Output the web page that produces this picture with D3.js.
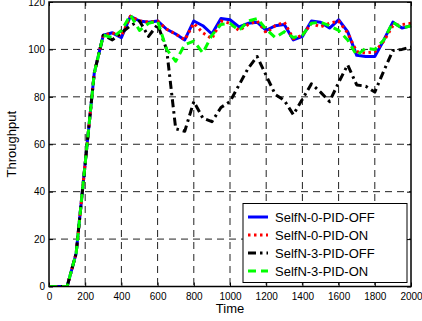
<!DOCTYPE html>
<html>
<head>
<meta charset="utf-8">
<script src="https://cdn.jsdelivr.net/npm/d3@7"></script>
<style>
  body { margin: 0; background: #fff; }
  text { font-family: "Liberation Sans", Arial, sans-serif; }
</style>
</head>
<body>
<div id="chart"></div>
<script>
// time samples
const times = d3.range(0, 2001, 50)

const selfN0Off = [0, 0, 0, 14, 52, 90, 106, 107, 105, 114, 112, 111.5, 112, 108.5, 106.5, 104, 112, 110, 106.5, 113, 112.5,
  109.5, 111, 111.5, 108, 110, 110.5, 104, 105.5, 112, 111.5, 109, 112.5, 107.5, 97.5, 97, 97, 104, 111.5, 109, 110]
const selfN0On = [0, 0, 0, 14, 52, 90, 106, 107, 105.5, 114, 112, 111.5, 112, 108.5, 106.5, 104, 111, 107, 104.5, 112, 111,
  108, 110.5, 112, 107, 110, 111.5, 104.5, 106, 111, 109.5, 111, 112, 107, 99, 98.5, 99, 103.5, 110, 110.5, 111]
const selfN3Off = [0, 0, 0, 14, 52, 90, 106, 104, 107, 110, 112, 105.5, 110.5, 100, 66.5, 65.5, 78, 71, 69.5, 75.5, 78,
  85, 92, 97, 89, 81, 78.5, 72.5, 79, 85.5, 82, 78, 86, 93.5, 85, 84.5, 82, 91, 99.5, 100, 101]
const selfN3On = [0, 0, 0, 14, 52, 90, 106, 105, 108, 114.5, 108, 111, 112, 100, 95, 102, 103.5, 98.5, 106, 110.5, 111,
  108, 112, 113, 108.5, 105, 107.5, 105, 106, 111, 111.5, 110, 108, 104, 97.5, 100.5, 100, 104, 111.5, 109, 110]

const seriesNames = ["SelfN-0-PID-OFF", "SelfN-0-PID-ON", "SelfN-3-PID-OFF", "SelfN-3-PID-ON"]
const xTicks = d3.range(0, 2001, 200)
const yTicks = d3.range(0, 121, 20)

const series = [
  {name: seriesNames[0], values: selfN0Off, color: "#0000ff", dash: null, cap: "butt"},
  {name: seriesNames[1], values: selfN0On, color: "#ff0000", dash: "2.5,3.5", cap: "butt"},
  {name: seriesNames[2], values: selfN3Off, color: "#000000", dash: "8,4,2.5,4", cap: "butt"},
  {name: seriesNames[3], values: selfN3On, color: "#00ff00", dash: "8,5", cap: "butt"}
]

const width = 422
const height = 321
const margin = {top: 2, right: 11, bottom: 34.5, left: 49}
const innerW = width - margin.left - margin.right
const innerH = height - margin.top - margin.bottom

const svg = d3.select("#chart").append("svg")
  .attr("width", width)
  .attr("height", height)

const g = svg.append("g").attr("transform", `translate(${margin.left},${margin.top})`)

const x = d3.scaleLinear().domain([0, 2000]).range([0, innerW])
const y = d3.scaleLinear().domain([0, 120]).range([innerH, 0])

// grid
g.append("g").selectAll("line")
  .data(xTicks.slice(1, -1))
  .join("line")
    .attr("x1", d => x(d)).attr("x2", d => x(d))
    .attr("y1", 0).attr("y2", innerH)
    .attr("stroke", "#222").attr("stroke-width", 1)
    .attr("stroke-dasharray", "7,5")
g.append("g").selectAll("line")
  .data(yTicks.slice(1, -1))
  .join("line")
    .attr("x1", 0).attr("x2", innerW)
    .attr("y1", d => y(d)).attr("y2", d => y(d))
    .attr("stroke", "#222").attr("stroke-width", 1)
    .attr("stroke-dasharray", "7,5")

// axes
const xAxis = g.append("g").attr("transform", `translate(0,${innerH})`)
  .call(d3.axisBottom(x).tickValues(xTicks).tickSize(-4).tickPadding(6).tickFormat(d3.format("d")))
const yAxis = g.append("g")
  .call(d3.axisLeft(y).tickValues(yTicks).tickSize(-4).tickPadding(4).tickFormat(d3.format("d")))
g.append("g")
  .call(d3.axisTop(x).tickValues(xTicks).tickSize(-4).tickFormat(""))
g.append("g").attr("transform", `translate(${innerW},0)`)
  .call(d3.axisRight(y).tickValues(yTicks).tickSize(-4).tickFormat(""))
g.selectAll(".domain").remove()
g.selectAll(".tick line").attr("stroke", "#000")
;[xAxis, yAxis].forEach(a => a.selectAll("text")
  .attr("fill", "#000").style("font-size", "10px")
  .style("font-family", "'Liberation Sans', Arial, sans-serif"))

// lines
const line = d3.line()
  .x((d, i) => x(times[i]))
  .y(d => y(d))

const clip = g.append("clipPath").attr("id", "clip")
  .append("rect").attr("x", -2).attr("y", -2).attr("width", innerW + 4).attr("height", innerH + 2)

g.append("g").attr("clip-path", "url(#clip)")
  .selectAll("path")
  .data(series)
  .join("path")
    .attr("d", d => line(d.values))
    .attr("fill", "none")
    .attr("stroke", d => d.color)
    .attr("stroke-width", 3)
    .attr("stroke-linejoin", "round")
    .attr("stroke-linecap", d => d.cap)
    .attr("stroke-dasharray", d => d.dash)

// frame
g.append("rect")
  .attr("width", innerW).attr("height", innerH)
  .attr("fill", "none").attr("stroke", "#000").attr("stroke-width", 1.5)

// axis labels
svg.append("text")
  .attr("x", margin.left + innerW / 2).attr("y", 313)
  .attr("text-anchor", "middle")
  .style("font-size", "13px")
  .text("Time")
svg.append("text")
  .attr("transform", `translate(16,${margin.top + innerH / 2}) rotate(-90)`)
  .attr("text-anchor", "middle")
  .style("font-size", "13px")
  .text("Throughput")

// legend
const legend = svg.append("g").attr("transform", "translate(243,203.5)")
legend.append("rect")
  .attr("width", 164).attr("height", 79)
  .attr("fill", "#fff").attr("stroke", "#000").attr("stroke-width", 1)
const items = legend.selectAll("g.item")
  .data(series)
  .join("g")
    .attr("class", "item")
    .attr("transform", (d, i) => `translate(0,${13.5 + i * 18})`)
items.append("line")
  .attr("x1", 5).attr("x2", 25)
  .attr("stroke", d => d.color)
  .attr("stroke-width", 3)
  .attr("stroke-dasharray", d => d.dash)
items.append("text")
  .attr("x", 32).attr("y", 0)
  .attr("dy", "0.35em")
  .style("font-size", "13px")
  .text(d => d.name)
</script>
</body>
</html>
